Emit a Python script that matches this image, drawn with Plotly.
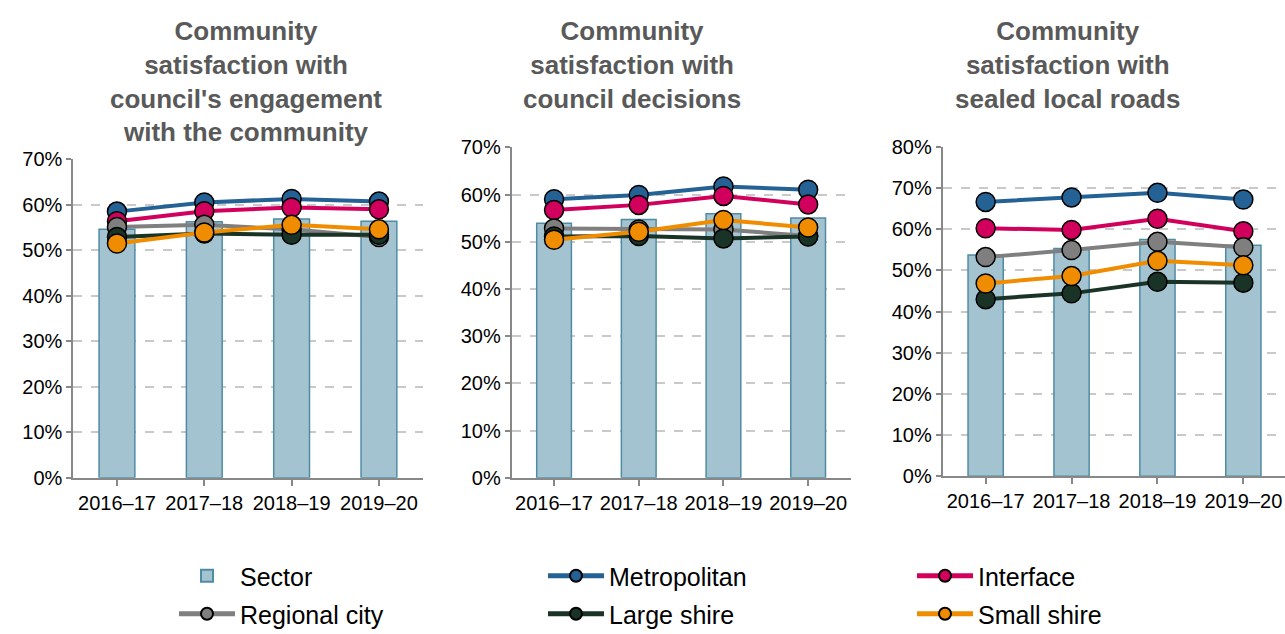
import plotly.graph_objects as go

# Financial years shown on every panel
years = ["2016–17", "2017–18", "2018–19", "2019–20"]

panel_titles = [
    "Community<br>satisfaction with<br>council's engagement<br>with the community",
    "Community<br>satisfaction with<br>council decisions",
    "Community<br>satisfaction with<br>sealed local roads",
]

# Index scores (%) by council group — engagement with the community
engage_sector = [54.6, 56.3, 56.9, 56.4]
engage_metro = [58.5, 60.5, 61.3, 60.7]
engage_interface = [56.4, 58.6, 59.4, 59.0]
engage_regional = [55.1, 55.6, 54.6, 52.9]
engage_large = [52.9, 53.7, 53.4, 53.4]
engage_small = [51.5, 53.9, 55.6, 54.6]

# Council decisions
decide_sector = [53.9, 54.7, 55.9, 55.0]
decide_metro = [59.0, 59.9, 61.7, 61.0]
decide_interface = [56.7, 57.8, 59.7, 57.9]
decide_regional = [52.8, 52.6, 52.6, 51.2]
decide_large = [51.1, 51.2, 50.7, 51.1]
decide_small = [50.4, 52.1, 54.6, 53.0]

# Sealed local roads
roads_sector = [53.7, 55.3, 57.5, 56.1]
roads_metro = [66.6, 67.7, 68.8, 67.2]
roads_interface = [60.2, 59.8, 62.5, 59.5]
roads_regional = [53.2, 54.9, 56.9, 55.6]
roads_large = [43.0, 44.4, 47.2, 47.0]
roads_small = [46.8, 48.6, 52.3, 51.2]

group_names = ["Metropolitan", "Interface", "Regional city", "Large shire", "Small shire"]
group_colors = ["#246295", "#D1005C", "#7F7F7F", "#1A3327", "#F08C00"]
# first legend row: Sector, Metropolitan, Interface; second row: the rest
group_legend = ["legend", "legend", "legend2", "legend2", "legend2"]

panels = [
    (engage_sector, [engage_metro, engage_interface, engage_regional, engage_large, engage_small]),
    (decide_sector, [decide_metro, decide_interface, decide_regional, decide_large, decide_small]),
    (roads_sector, [roads_metro, roads_interface, roads_regional, roads_large, roads_small]),
]

W, H = 1285, 634

def px_x(v):
    return v / W

def px_y(v):
    return (H - v) / H

# Plot-area geometry per panel (pixels): left, right, bottom(0%), top(max)
x_domains = [(73.3, 422.6), (511.7, 850.5), (942.7, 1285)]
y_domains = [(477.8, 159.3), (477.7, 147.3), (476.3, 146.7)]
y_max = [70, 70, 80]
x_ranges = [[-0.5, 3.5], [-0.5, 3.5], [-0.5, -0.5 + (1285 - 942.7) / 85.9]]
title_x = [246, 632, 1067]

fig = go.Figure()

for i, (sector, groups) in enumerate(panels):
    xa = "x" if i == 0 else f"x{i + 1}"
    ya = "y" if i == 0 else f"y{i + 1}"
    fig.add_trace(go.Bar(
        x=years, y=sector, name="Sector", width=0.41,
        marker=dict(color="#A4C3D0", line=dict(color="#4F8CA4", width=1.5)),
        xaxis=xa, yaxis=ya, showlegend=(i == 0), legendgroup="Sector",
        legend="legend",
    ))
    for name, color, vals, lg in zip(group_names, group_colors, groups, group_legend):
        fig.add_trace(go.Scatter(
            x=years, y=vals, name=name, mode="lines+markers",
            line=dict(color=color, width=4),
            marker=dict(size=19, color=color, line=dict(color="#000000", width=1.5)),
            xaxis=xa, yaxis=ya, showlegend=(i == 0), legendgroup=name,
            legend=lg,
        ))

axis_font = dict(family="Liberation Sans, Arial, sans-serif", size=20, color="#000000")
legend_common = dict(
    orientation="h", xanchor="left", yanchor="middle",
    font=dict(family="Liberation Sans, Arial, sans-serif", size=25, color="#000000"),
    entrywidth=298, itemwidth=56, itemsizing="constant",
    traceorder="normal", bgcolor="rgba(0,0,0,0)",
)
layout = dict(
    width=W, height=H,
    margin=dict(l=0, r=0, t=0, b=0, autoexpand=False),
    paper_bgcolor="white", plot_bgcolor="white",
    font=dict(family="Liberation Sans, Arial, sans-serif"),
    legend=dict(x=px_x(174), y=px_y(576), **legend_common),
    legend2=dict(x=px_x(174), y=px_y(614), **legend_common),
    annotations=[],
)

for i in range(3):
    xkey = "xaxis" if i == 0 else f"xaxis{i + 1}"
    ykey = "yaxis" if i == 0 else f"yaxis{i + 1}"
    anchor_x = "y" if i == 0 else f"y{i + 1}"
    anchor_y = "x" if i == 0 else f"x{i + 1}"
    layout[xkey] = dict(
        domain=[px_x(x_domains[i][0]), px_x(x_domains[i][1])],
        anchor=anchor_x, type="category", range=x_ranges[i],
        showline=True, linecolor="#888888", linewidth=2,
        ticks="outside", ticklen=6, tickcolor="#888888", tickwidth=1.5,
        tickfont=axis_font, showgrid=False, fixedrange=True,
    )
    layout[ykey] = dict(
        domain=[px_y(y_domains[i][0]), px_y(y_domains[i][1])],
        anchor=anchor_y, range=[0, y_max[i]], dtick=10, ticksuffix="%",
        showline=True, linecolor="#888888", linewidth=2,
        ticks="outside", ticklen=5, tickcolor="#888888", tickwidth=1.5,
        tickfont=axis_font, showgrid=True, gridcolor="#C9C9C9", gridwidth=1.5,
        griddash="dash", zeroline=False, fixedrange=True,
    )
    layout["annotations"].append(dict(
        text="<b>" + panel_titles[i] + "</b>", xref="paper", yref="paper",
        x=px_x(title_x[i]), y=px_y(14), xanchor="center", yanchor="top",
        showarrow=False, align="center",
        font=dict(family="Liberation Sans, Arial, sans-serif", size=26, color="#595959"),
    ))

fig.update_layout(**layout)
fig.write_html("out.html")
